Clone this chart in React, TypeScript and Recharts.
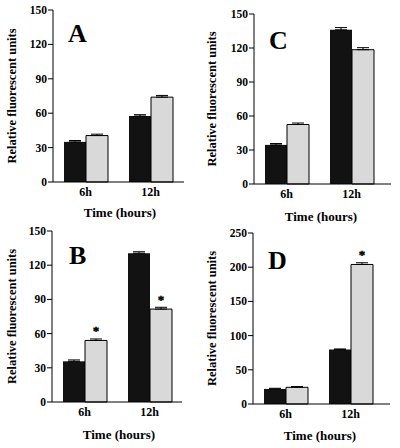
import React from 'react';
import { BarChart, Bar, XAxis, YAxis, ErrorBar, LabelList } from 'recharts';

const categories = ['6h', '12h'];

const aControl = [35, 57.5];
const aTreated = [40.5, 74];
const aControlErr = [1.2, 1.2];
const aTreatedErr = [1.2, 1.5];
const aStars = ['', ''];

const bControl = [35.7, 130.5];
const bTreated = [54, 81.5];
const bControlErr = [1.2, 1.3];
const bTreatedErr = [1.3, 1.6];
const bStars = ['*', '*'];

const cControl = [34.5, 136];
const cTreated = [52.5, 118.5];
const cControlErr = [1.2, 2];
const cTreatedErr = [1.3, 1.8];
const cStars = ['', ''];

const dControl = [22, 79.5];
const dTreated = [24.4, 204];
const dControlErr = [1, 1];
const dTreatedErr = [1.2, 2.5];
const dStars = ['', '*'];

const ticks150 = [0, 30, 60, 90, 120, 150];
const ticks250 = [0, 50, 100, 150, 200, 250];

const FONT = '"Liberation Serif", "Times New Roman", serif';

function buildRows(ctrl: number[], trt: number[], ce: number[], te: number[], stars: string[]) {
  return categories.map((c, i) => ({
    cat: c,
    control: ctrl[i],
    treated: trt[i],
    controlErr: [0, ce[i]],
    treatedErr: [0, te[i]],
    star: stars[i],
  }));
}

const StarLabel = (p: any) => {
  const { x, y, width, value } = p;
  if (!value) return null;
  return (
    <text
      x={x + width / 2}
      y={y - 5}
      textAnchor="middle"
      fontSize={13}
      fontFamily={FONT}
      fontWeight={700}
      fill="#000"
      stroke="#000"
      strokeWidth={0.4}
    >
      {value}
    </text>
  );
};

type PanelProps = {
  left: number;
  top: number;
  rows: any[];
  letter: string;
  ticks: number[];
  yMax: number;
  axisW: number;
  mTop: number;
  mRight: number;
  xH: number;
  padRight: number;
  titleOff: number;
  letterDx: number;
  letterDy: number;
};

const W = 200;
const H = 224;

function Panel(p: PanelProps) {
  const plotRight = W - p.mRight;
  const plotBottom = H - p.xH;
  const bandCenter = p.axisW + (plotRight - p.axisW - p.padRight) / 2;
  return (
    <div style={{ position: 'absolute', left: p.left, top: p.top, width: W, height: H }}>
      <BarChart
        width={W}
        height={H}
        data={p.rows}
        margin={{ top: p.mTop, right: p.mRight, left: 0, bottom: 0 }}
        barGap={0}
        barSize={22}
      >
        <XAxis
          dataKey="cat"
          height={p.xH}
          interval={0}
          tickLine={false}
          tickSize={3}
          tickMargin={2}
          axisLine={{ stroke: '#000', strokeWidth: 1 }}
          padding={{ left: 0, right: p.padRight }}
          tick={{ fill: '#000', fontSize: 12, fontWeight: 700, fontFamily: FONT }}
        />
        <XAxis
          xAxisId="top"
          orientation="top"
          dataKey="cat"
          height={0}
          tick={false}
          tickLine={false}
          axisLine={{ stroke: '#000', strokeWidth: 1 }}
          padding={{ left: 0, right: p.padRight }}
        />
        <YAxis
          width={p.axisW}
          domain={[0, p.yMax]}
          ticks={p.ticks}
          interval={0}
          tickSize={5}
          tickMargin={1}
          axisLine={{ stroke: '#000', strokeWidth: 1 }}
          tickLine={{ stroke: '#000', strokeWidth: 1 }}
          tick={{ fill: '#000', fontSize: 11.5, fontWeight: 700, fontFamily: FONT }}
        />
        <YAxis
          yAxisId="right"
          orientation="right"
          width={0}
          domain={[0, p.yMax]}
          tick={false}
          tickLine={false}
          axisLine={{ stroke: '#000', strokeWidth: 1 }}
        />
        <Bar dataKey="control" fill="#121212" isAnimationActive={false}>
          <ErrorBar dataKey="controlErr" width={6} stroke="#000" strokeWidth={1} direction="y" />
        </Bar>
        <Bar dataKey="treated" fill="#d9d9d9" stroke="#000" strokeWidth={1} isAnimationActive={false}>
          <ErrorBar dataKey="treatedErr" width={6} stroke="#000" strokeWidth={1} direction="y" />
          <LabelList dataKey="star" content={StarLabel} />
        </Bar>
      </BarChart>
      <svg
        width={W}
        height={H}
        style={{ position: 'absolute', left: 0, top: 0, pointerEvents: 'none' }}
      >
        <text
          x={p.axisW + p.letterDx}
          y={p.mTop + p.letterDy}
          fontSize={26}
          fontWeight={700}
          fontFamily={FONT}
          fill="#000"
        >
          {p.letter}
        </text>
        <text
          transform={`translate(12, ${(p.mTop + plotBottom) / 2}) rotate(-90)`}
          textAnchor="middle"
          dominantBaseline="central"
          fontSize={12.5}
          fontWeight={700}
          fontFamily={FONT}
          fill="#000"
        >
          Relative fluorescent units
        </text>
        <text
          x={bandCenter + 2}
          y={plotBottom + p.titleOff}
          textAnchor="middle"
          dominantBaseline="central"
          fontSize={13}
          fontWeight={700}
          fontFamily={FONT}
          fill="#000"
        >
          Time (hours)
        </text>
      </svg>
    </div>
  );
}

export default function App() {
  return (
    <div style={{ position: 'absolute', left: 0, top: 0, width: 400, height: 448, background: '#fff' }}>
      <Panel
        left={0}
        top={0}
        rows={buildRows(aControl, aTreated, aControlErr, aTreatedErr, aStars)}
        letter="A"
        ticks={ticks150}
        yMax={150}
        axisW={53}
        mTop={10}
        mRight={16}
        xH={42}
        padRight={1}
        titleOff={30}
        letterDx={15}
        letterDy={32}
      />
      <Panel
        left={200}
        top={0}
        rows={buildRows(cControl, cTreated, cControlErr, cTreatedErr, cStars)}
        letter="C"
        ticks={ticks150}
        yMax={150}
        axisW={54}
        mTop={14}
        mRight={9}
        xH={40}
        padRight={7}
        titleOff={32}
        letterDx={15}
        letterDy={35}
      />
      <Panel
        left={0}
        top={224}
        rows={buildRows(bControl, bTreated, bControlErr, bTreatedErr, bStars)}
        letter="B"
        ticks={ticks150}
        yMax={150}
        axisW={52}
        mTop={7}
        mRight={18}
        xH={46}
        padRight={0}
        titleOff={32}
        letterDx={17}
        letterDy={33}
      />
      <Panel
        left={200}
        top={224}
        rows={buildRows(dControl, dTreated, dControlErr, dTreatedErr, dStars)}
        letter="D"
        ticks={ticks250}
        yMax={250}
        axisW={53}
        mTop={9}
        mRight={10}
        xH={44}
        padRight={7}
        titleOff={31}
        letterDx={15}
        letterDy={36}
      />
    </div>
  );
}
